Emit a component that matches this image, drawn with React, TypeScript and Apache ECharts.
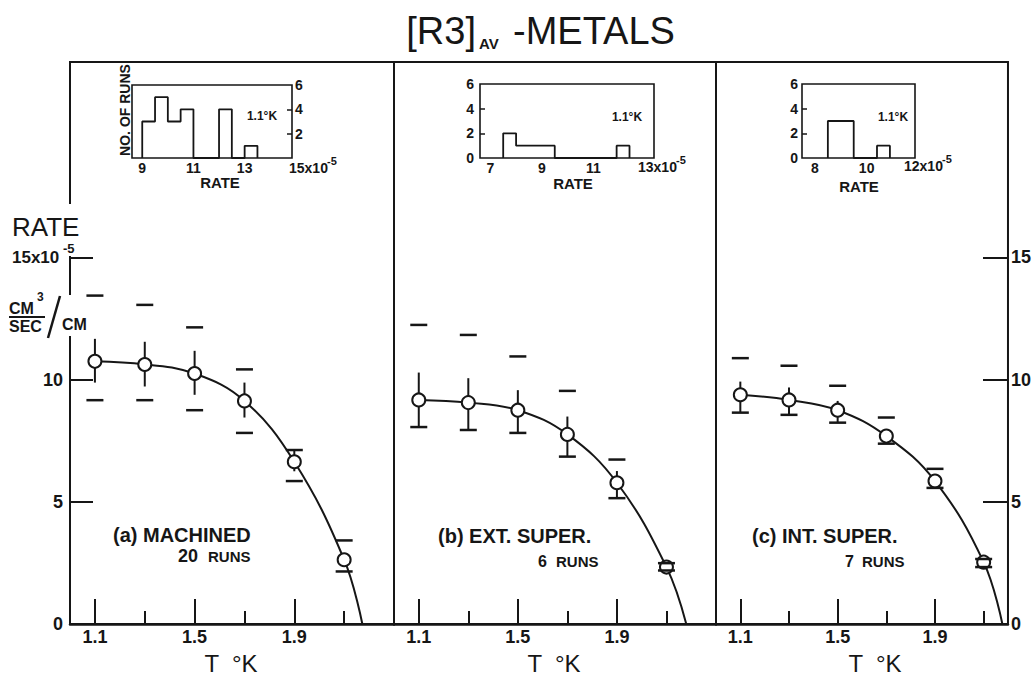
import React, { useEffect, useRef } from "react";
import * as echarts from "echarts";

// ---------- data ----------
const temps = [1.1, 1.3, 1.5, 1.7, 1.9, 2.1];

// (a) machined, 20 runs
const rateA = [10.75, 10.62, 10.25, 9.13, 6.64, 2.63];
const errHighA = [11.67, 11.55, 11.18, 9.88, 7.12, 2.63];
const errLowA = [9.88, 9.72, 9.38, 8.45, 6.25, 2.63];
const dashHighA = [13.44, 13.06, 12.14, 10.42, 7.12, 3.42];
const dashLowA = [9.16, 9.16, 8.75, 7.82, 5.85, 2.15];
const lambdaA = 2.173;

// (b) ext. super., 6 runs
const rateB = [9.17, 9.06, 8.75, 7.76, 5.78, 2.33];
const errHighB = [10.29, 10.06, 9.57, 8.49, 6.26, 2.49];
const errLowB = [8.06, 7.94, 7.82, 6.85, 5.15, 2.19];
const dashHighB = [12.24, 11.83, 10.95, 9.54, 6.73, 2.49];
const dashLowB = [8.06, 7.94, 7.82, 6.85, 5.15, 2.19];
const lambdaB = 2.18;

// (c) int. super., 7 runs
const rateC = [9.38, 9.17, 8.75, 7.69, 5.85, 2.53];
const errHighC = [9.92, 9.68, 9.13, 7.69, 5.85, 2.66];
const errLowC = [8.65, 8.56, 8.24, 7.38, 5.57, 2.33];
const dashHighC = [10.88, 10.57, 9.75, 8.45, 6.35, 2.66];
const dashLowC = [8.65, 8.56, 8.24, 7.38, 5.57, 2.33];
const lambdaC = 2.177;

// axis ticks
const majorT = [1.1, 1.5, 1.9];
const minorT = [1.3, 1.7, 2.1];
const rateTicks = [5, 10, 15];
const rateLabelsLeft = [0, 5, 10];
const rateLabelsRight = [0, 5, 10, 15];

// inset histograms at 1.1 K (rate in 1e-5)
const binStartA = [9, 9.5, 10, 10.5, 12, 13];
const binEndA = [9.5, 10, 10.5, 11, 12.5, 13.5];
const binCountA = [3, 5, 3, 4, 4, 1];
const binStartB = [7.5, 8, 8.5, 9, 11.9];
const binEndB = [8, 8.5, 9, 9.5, 12.4];
const binCountB = [2, 1, 1, 1, 1];
const binStartC = [8.5, 9, 10.4];
const binEndC = [9, 9.5, 10.9];
const binCountC = [3, 3, 1];
const insetRateLabelsA = [9, 11, 13];
const insetRateLabelsB = [7, 9, 11];
const insetRateLabelsC = [8, 10];
const runTicks = [2, 4];
const runLabelsA = [2, 4, 6];
const runLabelsBC = [0, 2, 4, 6];

// ---------- styling ----------
const FONT = '"Liberation Sans", Arial, "DejaVu Sans", sans-serif';
const INK = "#161616";

function outline(starts: number[], ends: number[], counts: number[]) {
  const pts: number[][] = [];
  let prevEnd: number | null = null;
  for (let i = 0; i < starts.length; i++) {
    const s = starts[i];
    if (prevEnd === null || Math.abs(s - prevEnd) > 1e-9) {
      if (prevEnd !== null) pts.push([prevEnd, 0]);
      pts.push([s, 0]);
    }
    pts.push([s, counts[i]], [ends[i], counts[i]]);
    prevEnd = ends[i];
  }
  if (prevEnd !== null) pts.push([prevEnd, 0]);
  return pts;
}

function txt(
  x: number,
  y: number,
  text: string,
  size: number,
  opts: { weight?: string; align?: string; rotation?: number } = {}
) {
  return {
    type: "text",
    x,
    y,
    z: 100,
    rotation: opts.rotation ?? 0,
    style: {
      text,
      fontSize: size,
      fontFamily: FONT,
      fontWeight: opts.weight ?? "bold",
      fill: INK,
      align: opts.align ?? "left",
      verticalAlign: "middle",
    },
  };
}

const lineStyle = { color: INK, width: 2 };
const labelBase = { color: INK, fontFamily: FONT, fontWeight: "bold" as const };

function mainX(grid: number, max: number) {
  return [
    {
      type: "value",
      gridIndex: grid,
      position: "bottom",
      min: 1.0,
      max,
      axisLine: { show: true, lineStyle: { color: INK, width: 2.5 } },
      axisTick: { show: true, inside: true, length: 25, customValues: majorT, lineStyle },
      axisLabel: {
        ...labelBase,
        customValues: majorT,
        margin: 4,
        fontSize: 18,
        formatter: (v: number) => v.toFixed(1),
      },
      splitLine: { show: false },
    },
    {
      type: "value",
      gridIndex: grid,
      position: "bottom",
      min: 1.0,
      max,
      axisLine: { show: false },
      axisTick: { show: true, inside: true, length: 13, customValues: minorT, lineStyle },
      axisLabel: { show: false },
      splitLine: { show: false },
    },
  ];
}

function panelSeries(
  xi: number,
  yi: number,
  rate: number[],
  lo: number[],
  hi: number[],
  dHi: number[],
  dLo: number[],
  tL: number
) {
  return [
    {
      type: "line",
      xAxisIndex: xi,
      yAxisIndex: yi,
      data: [...temps.map((t, k) => [t, rate[k]]), [tL, 0]],
      smooth: 0.4,
      showSymbol: false,
      symbol: "none",
      lineStyle: { color: INK, width: 2 },
      silent: true,
      z: 2,
    },
    {
      type: "custom",
      xAxisIndex: xi,
      yAxisIndex: yi,
      data: temps.map((t, k) => [t, lo[k], hi[k]]),
      encode: { x: 0, y: [1, 2] },
      silent: true,
      z: 3,
      renderItem: (_p: any, api: any) => {
        const a = api.coord([api.value(0), api.value(1)]);
        const b = api.coord([api.value(0), api.value(2)]);
        return {
          type: "line",
          shape: { x1: a[0], y1: a[1], x2: b[0], y2: b[1] },
          style: { stroke: INK, lineWidth: 2 },
        };
      },
    },
    {
      type: "scatter",
      xAxisIndex: xi,
      yAxisIndex: yi,
      data: temps.map((t, k) => [t, rate[k]]),
      symbol: "circle",
      symbolSize: 13,
      itemStyle: { color: "#fff", borderColor: INK, borderWidth: 2, opacity: 1 },
      silent: true,
      z: 5,
    },
    {
      type: "scatter",
      xAxisIndex: xi,
      yAxisIndex: yi,
      data: [...temps.map((t, k) => [t, dHi[k]]), ...temps.map((t, k) => [t, dLo[k]])],
      symbol: "rect",
      symbolSize: [17, 2.5],
      itemStyle: { color: INK, opacity: 1 },
      silent: true,
      z: 6,
    },
  ];
}

function histSeries(xi: number, yi: number, pts: number[][]) {
  return {
    type: "line",
    xAxisIndex: xi,
    yAxisIndex: yi,
    data: pts,
    showSymbol: false,
    symbol: "none",
    lineStyle: { color: INK, width: 1.8 },
    silent: true,
    z: 3,
  };
}

function insetX(grid: number, min: number, max: number, labels: number[]) {
  return {
    type: "value",
    gridIndex: grid,
    position: "bottom",
    min,
    max,
    axisLine: { show: false },
    axisTick: { show: false },
    axisLabel: { ...labelBase, customValues: labels, margin: 3, fontSize: 14 },
    splitLine: { show: false },
  };
}

function insetY(grid: number, pos: string, labels: number[], margin: number) {
  return {
    type: "value",
    gridIndex: grid,
    position: pos,
    min: 0,
    max: 6,
    axisLine: { show: false },
    axisTick: { show: true, inside: true, length: 5, customValues: runTicks, lineStyle: { color: INK, width: 1.5 } },
    axisLabel: { ...labelBase, customValues: labels, margin, fontSize: 14 },
    splitLine: { show: false },
  };
}

export default function App() {
  const ref = useRef<HTMLDivElement>(null);
  useEffect(() => {
    if (!ref.current) return;
    const chart = echarts.init(ref.current, undefined, { renderer: "svg" });
    const gridBase = { show: true, borderColor: INK, backgroundColor: "transparent" };
    const option: any = {
      animation: false,
      backgroundColor: "#ffffff",
      textStyle: { fontFamily: FONT },
      grid: [
        { ...gridBase, left: 70, top: 62, width: 324, height: 562, borderWidth: 2 },
        { ...gridBase, left: 394, top: 62, width: 322, height: 562, borderWidth: 2 },
        { ...gridBase, left: 716, top: 62, width: 299, height: 562, borderWidth: 2 },
        { ...gridBase, left: 132, top: 85, width: 160, height: 73, borderWidth: 1.6 },
        { ...gridBase, left: 480, top: 84, width: 174, height: 74, borderWidth: 1.6 },
        { ...gridBase, left: 802, top: 84, width: 113, height: 74, borderWidth: 1.6 },
      ],
      xAxis: [
        ...mainX(0, 2.3),
        ...mainX(1, 2.3),
        ...mainX(2, 2.2),
        insetX(3, 8.6, 14.85, insetRateLabelsA),
        insetX(4, 6.6, 13.35, insetRateLabelsB),
        insetX(5, 7.5, 11.87, insetRateLabelsC),
      ],
      yAxis: [
        {
          type: "value",
          gridIndex: 0,
          position: "left",
          min: 0,
          max: 23,
          axisLine: { show: false },
          axisTick: { show: true, inside: true, length: 23, customValues: rateTicks, lineStyle },
          axisLabel: { ...labelBase, customValues: rateLabelsLeft, margin: 7, fontSize: 18 },
          splitLine: { show: false },
        },
        {
          type: "value",
          gridIndex: 1,
          min: 0,
          max: 23,
          axisLine: { show: false },
          axisTick: { show: false },
          axisLabel: { show: false },
          splitLine: { show: false },
        },
        {
          type: "value",
          gridIndex: 2,
          position: "right",
          min: 0,
          max: 23,
          axisLine: { show: false },
          axisTick: { show: true, inside: true, length: 25, customValues: rateTicks, lineStyle },
          axisLabel: { ...labelBase, customValues: rateLabelsRight, margin: 3, fontSize: 18 },
          splitLine: { show: false },
        },
        insetY(3, "right", runLabelsA, 3),
        insetY(4, "left", runLabelsBC, 6),
        insetY(5, "left", runLabelsBC, 4),
      ],
      series: [
        ...panelSeries(0, 0, rateA, errLowA, errHighA, dashHighA, dashLowA, lambdaA),
        ...panelSeries(2, 1, rateB, errLowB, errHighB, dashHighB, dashLowB, lambdaB),
        ...panelSeries(4, 2, rateC, errLowC, errHighC, dashHighC, dashLowC, lambdaC),
        histSeries(6, 3, outline(binStartA, binEndA, binCountA)),
        histSeries(7, 4, outline(binStartB, binEndB, binCountB)),
        histSeries(8, 5, outline(binStartC, binEndC, binCountC)),
      ],
      graphic: [
        // gaps in the left frame where the axis title sits
        { type: "rect", z: 90, shape: { x: 62, y: 204, width: 16, height: 52 }, style: { fill: "#fff" } },
        { type: "rect", z: 90, shape: { x: 62, y: 295, width: 16, height: 41 }, style: { fill: "#fff" } },
        // title
        txt(476, 31, "[R3]", 38, { weight: "normal", align: "right" }),
        txt(479, 43, "AV", 15, { weight: "bold" }),
        txt(513, 31, "-METALS", 38, { weight: "normal" }),
        // left axis title
        txt(12, 227, "RATE", 26, { weight: "normal" }),
        txt(12, 257.5, "15x10", 17),
        txt(63, 248, "-5", 13),
        txt(9, 308.5, "CM", 16),
        txt(37, 297, "3", 12),
        { type: "line", z: 100, shape: { x1: 9, y1: 317, x2: 45, y2: 317 }, style: { stroke: INK, lineWidth: 2 } },
        txt(9, 326.5, "SEC", 16),
        { type: "line", z: 100, shape: { x1: 60, y1: 296, x2: 48, y2: 338 }, style: { stroke: INK, lineWidth: 2.5 } },
        txt(62, 324, "CM", 16),
        // x axis titles
        txt(231, 663, "T  °K", 24, { weight: "normal", align: "center" }),
        txt(554, 663, "T  °K", 24, { weight: "normal", align: "center" }),
        txt(875, 663, "T  °K", 24, { weight: "normal", align: "center" }),
        // panel labels
        txt(113, 534.5, "(a) MACHINED", 20),
        txt(178, 556, "20", 18),
        txt(208, 556.5, "RUNS", 15),
        txt(438, 536, "(b) EXT. SUPER.", 20),
        txt(538, 561.5, "6", 16),
        txt(556, 561.5, "RUNS", 15),
        txt(752, 536, "(c) INT. SUPER.", 20),
        txt(845, 561.5, "7", 16),
        txt(862, 561.5, "RUNS", 15),
        // inset texts
        txt(125, 110, "NO. OF RUNS", 14, { rotation: Math.PI / 2, align: "center" }),
        txt(220, 182.5, "RATE", 15, { align: "center" }),
        txt(573, 183, "RATE", 15, { align: "center" }),
        txt(859, 186, "RATE", 15, { align: "center" }),
        txt(262, 116, "1.1°K", 12, { align: "center" }),
        txt(627, 117, "1.1°K", 12, { align: "center" }),
        txt(893, 117, "1.1°K", 12, { align: "center" }),
        txt(289, 168, "15x10", 14),
        txt(327, 161, "-5", 11),
        txt(638, 167, "13x10", 14),
        txt(676, 160, "-5", 11),
        txt(904, 166, "12x10", 14),
        txt(942, 159, "-5", 11),
      ],
    };
    chart.setOption(option);
    return () => chart.dispose();
  }, []);
  return (
    <div
      ref={ref}
      style={{ position: "fixed", left: 0, top: 0, width: 1034, height: 677, background: "#fff" }}
    />
  );
}
